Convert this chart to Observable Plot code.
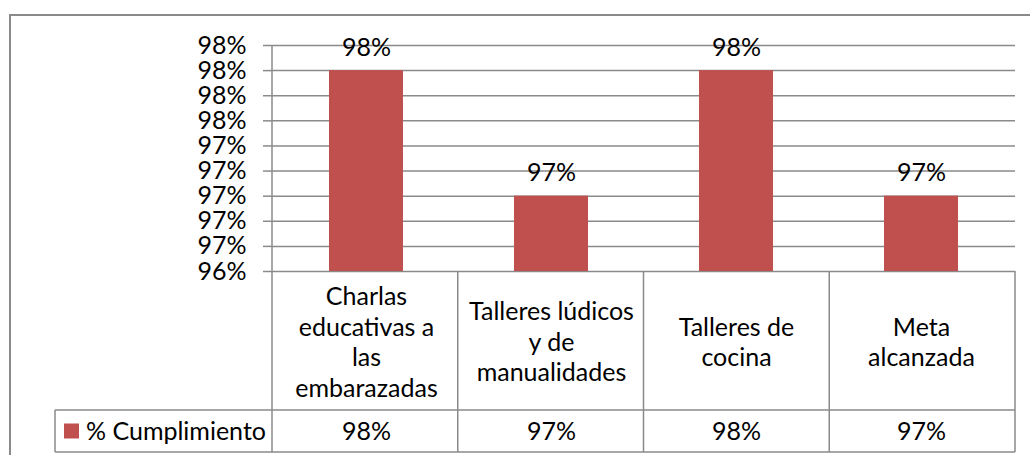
<!DOCTYPE html>
<html><head><meta charset="utf-8">
<script src="https://cdn.jsdelivr.net/npm/d3@7"></script>
<script src="https://cdn.jsdelivr.net/npm/@observablehq/plot@0.6"></script>
<style>
html,body{margin:0;padding:0;background:#fff;}
svg{display:block;}
</style></head><body><div id="chart"></div>
<script>
const categories = ["Charlas educativas a las embarazadas", "Talleres lúdicos y de manualidades", "Talleres de cocina", "Meta alcanzada"];
const categoryLabels = ["Charlas\neducativas a\nlas\nembarazadas", "Talleres lúdicos\ny de\nmanualidades", "Talleres de\ncocina", "Meta\nalcanzada"];
const values = [98.0, 97.0, 98.0, 97.0];
const seriesName = "% Cumplimiento";
const yTicks = [96.4, 96.6, 96.8, 97.0, 97.2, 97.4, 97.6, 97.8, 98.0, 98.2];
const yMin = 96.4, yMax = 98.2;

const data = categories.map((c, i) => ({cat: c, label: categoryLabels[i], value: values[i]}));
const fmt = v => Math.round(v) + "%";
const gridColor = "#8a8a8a";
const barColor = "#C0504D";
const font = "Lato, 'Open Sans', sans-serif";
const fs = 25;
const W = 1030, H = 455, mL = 272, mR = 15, mT = 45, mB = 184;
const row1 = 139, row2 = 42, legendLeft = 55;

const chart = Plot.plot({
  width: W, height: H, marginLeft: mL, marginRight: mR, marginTop: mT, marginBottom: mB,
  style: {fontFamily: font, fontSize: fs + "px", color: "#000", background: "#fff", overflow: "visible"},
  x: {domain: categories, paddingInner: 0.6, paddingOuter: 0.3, axis: null},
  y: {domain: [yMin, yMax], label: null},
  marks: [
    Plot.gridY(yTicks, {stroke: gridColor, strokeOpacity: 1, strokeWidth: 1.5}),
    Plot.axisY(yTicks, {tickSize: 9, tickPadding: 17, tickFormat: fmt, stroke: gridColor, strokeWidth: 1.5, fill: "#000", fontSize: fs, label: null}),
    Plot.barY(data, {x: "cat", y1: () => yMin, y2: "value", fill: barColor}),
    Plot.text(data, {x: "cat", y: "value", text: d => fmt(d.value), lineAnchor: "bottom", dy: -15, fontSize: fs, fill: "#000"}),
    Plot.text(data, {x: "cat", y: () => yMin, text: "label", dy: row1 / 2, lineHeight: 1.22, fontSize: fs, fill: "#000"}),
    Plot.text(data, {x: "cat", y: () => yMin, text: d => fmt(d.value), dy: row1 + row2 / 2, fontSize: fs, fill: "#000"})
  ]
});

const svg = d3.select(chart);
const xs = chart.scale("x"), ys = chart.scale("y");
const n = categories.length;
const x0 = xs.range[0], x1 = xs.range[1];
const step = (x1 - x0) / n;
const yTop = ys.apply(yMax), yBase = ys.apply(yMin);
const yRow = yBase + row1, yBot = yRow + row2;

svg.insert("rect", ":first-child").attr("x", 10).attr("y", 15).attr("width", W).attr("height", H)
  .attr("fill", "none").attr("stroke", gridColor).attr("stroke-width", 2);

const g = svg.append("g").attr("stroke", gridColor).attr("stroke-width", 1.5).attr("fill", "none");
g.append("line").attr("x1", x0).attr("x2", x0).attr("y1", yTop).attr("y2", yBot);
for (let i = 1; i <= n; i++) {
  const x = x0 + i * step;
  g.append("line").attr("x1", x).attr("x2", x).attr("y1", yBase).attr("y2", yBot);
}
g.append("line").attr("x1", legendLeft).attr("x2", x1).attr("y1", yRow).attr("y2", yRow);
g.append("line").attr("x1", legendLeft).attr("x2", x1).attr("y1", yBot).attr("y2", yBot);
g.append("line").attr("x1", legendLeft).attr("x2", legendLeft).attr("y1", yRow).attr("y2", yBot);

const lg = svg.append("g");
lg.append("rect").attr("x", legendLeft + 9).attr("y", (yRow + yBot) / 2 - 7.5).attr("width", 15).attr("height", 15).attr("fill", barColor);
lg.append("text").attr("x", legendLeft + 31).attr("y", (yRow + yBot) / 2).attr("dy", "0.35em")
  .attr("text-anchor", "start").attr("font-family", font).attr("font-size", fs).attr("fill", "#000").text(seriesName);

document.getElementById("chart").appendChild(chart);
</script></body></html>
